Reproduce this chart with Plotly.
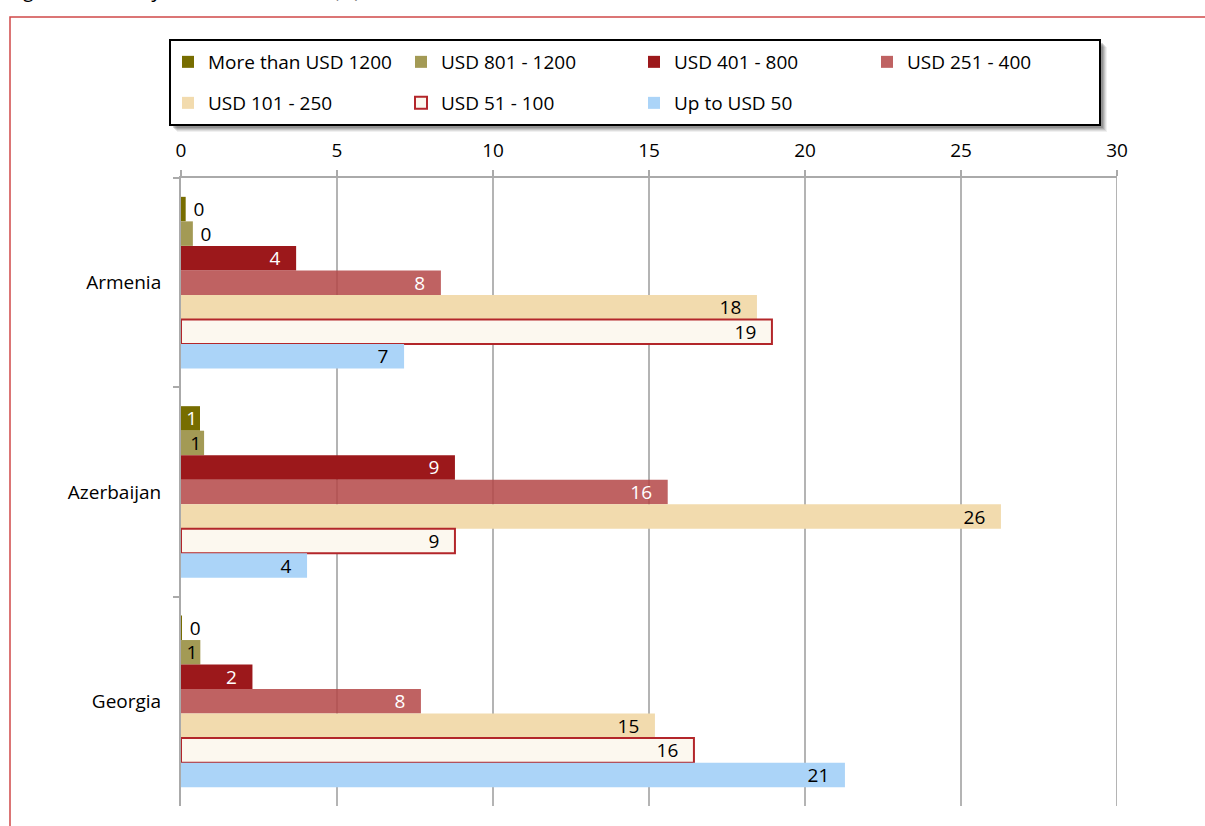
import plotly.graph_objects as go

countries = ["Armenia", "Azerbaijan", "Georgia"]
series_names = ["More than USD 1200", "USD 801 - 1200", "USD 401 - 800", "USD 251 - 400",
                "USD 101 - 250", "USD 51 - 100", "Up to USD 50"]
more_1200 = [0.15, 0.61, 0.03]
usd_801_1200 = [0.38, 0.74, 0.62]
usd_401_800 = [3.69, 8.78, 2.29]
usd_251_400 = [8.33, 15.6, 7.69]
usd_101_250 = [18.46, 26.28, 15.19]
usd_51_100 = [18.94, 8.78, 16.44]
up_to_50 = [7.15, 4.04, 21.28]
x_ticks = [0, 5, 10, 15, 20, 25, 30]

series_values = [more_1200, usd_801_1200, usd_401_800, usd_251_400, usd_101_250, usd_51_100, up_to_50]
fills = ["#776d00", "#a39a55", "#9c181b", "rgba(180,70,70,0.85)", "#f2dbae", "#fcf8ef", "#abd4f8"]
line_cols = [None, None, None, None, None, "#b3262a", None]
text_cols = ["white", "black", "white", "white", "black", "black", "black"]

FONT = "Open Sans"
FS = 19
W, H = 1205, 826
ML, MR, MT, MB = 181, 88, 178, 20
PW, PH = W - ML - MR, H - MT - MB


def px(xp):
    return (xp - ML) / PW


def py(yp):
    return (H - MB - yp) / PH


fig = go.Figure()
for i, (name, vals) in enumerate(zip(series_names, series_values)):
    texts, pos = [], []
    for v in vals:
        r = int(round(v))
        if r == 0:
            texts.append("\u2005" + str(r))
            pos.append("outside")
        elif v < 1.5:
            texts.append(str(r))
            pos.append("inside")
        else:
            texts.append(str(r) + "\u2002\u2009")
            pos.append("inside")
    fig.add_trace(go.Bar(
        y=countries, x=vals, name=name, orientation="h",
        marker=dict(color=fills[i],
                    line=dict(color=line_cols[i] or "rgba(0,0,0,0)",
                              width=2 if line_cols[i] else 0)),
        text=texts, textposition=pos, insidetextanchor="end", textangle=0,
        constraintext="none", cliponaxis=False,
        insidetextfont=dict(color=text_cols[i], size=FS, family=FONT),
        outsidetextfont=dict(color="black", size=FS, family=FONT),
        legend="legend" if i < 4 else "legend2",
        hoverinfo="skip",
    ))

shapes = []
# gridline at the right end of the value axis
shapes.append(dict(type="line", xref="x", yref="paper", x0=x_ticks[-1], x1=x_ticks[-1],
                   y0=0, y1=1, layer="below", line=dict(color="#b4b4b4", width=2)))
# outer red frame (left and top edges)
shapes.append(dict(type="path", xref="paper", yref="paper",
                   path=f"M {px(10)} {py(835)} L {px(10)} {py(17)} L {px(1215)} {py(17)}",
                   line=dict(color="#d04848", width=1.5)))
# legend box shadow
for k, op in [(7, 0.08), (6, 0.1), (5, 0.14), (4, 0.18), (3, 0.22)]:
    shapes.append(dict(type="rect", xref="paper", yref="paper",
                       x0=px(170 + k), x1=px(1100 + k), y0=py(125 + k), y1=py(40 + k),
                       line=dict(width=0), fillcolor=f"rgba(60,60,60,{op})"))
shapes.append(dict(type="rect", xref="paper", yref="paper",
                   x0=px(170), x1=px(1100), y0=py(125), y1=py(40),
                   line=dict(color="black", width=2), fillcolor="white"))

legend_common = dict(orientation="h", xanchor="left", yanchor="middle",
                     entrywidth=188, entrywidthmode="pixels", bgcolor="rgba(0,0,0,0)",
                     font=dict(family=FONT, size=FS), traceorder="normal")

fig.update_layout(
    width=W, height=H,
    margin=dict(l=ML, r=MR, t=MT, b=MB),
    paper_bgcolor="white", plot_bgcolor="white",
    font=dict(family=FONT, size=FS, color="black"),
    barmode="group", bargap=0.18, bargroupgap=0,
    shapes=shapes,
    legend=dict(x=px(168), y=py(62), **legend_common),
    legend2=dict(x=px(168), y=py(103), **legend_common),
    xaxis=dict(range=[0, 30], side="top", tickvals=x_ticks, ticktext=[str(t) for t in x_ticks],
               showgrid=True, gridcolor="#b4b4b4", gridwidth=2, zeroline=False,
               showline=True, linecolor="#aaaaaa", linewidth=2,
               ticks="outside", ticklen=6, tickcolor="#aaaaaa", tickwidth=2,
               ticklabelstandoff=5, tickfont=dict(size=FS, family=FONT)),
    yaxis=dict(type="category", categoryorder="array", categoryarray=countries,
               autorange="reversed", tickson="boundaries", showgrid=False, zeroline=False,
               showline=True, linecolor="#aaaaaa", linewidth=2,
               ticks="outside", ticklen=6, tickcolor="#aaaaaa", tickwidth=2,
               ticklabelstandoff=14, tickfont=dict(size=FS, family=FONT)),
    annotations=[dict(text="<i>Figure 6: Monthly household income (%)</i>", xref="paper", yref="paper",
                      x=px(8), y=py(5), xanchor="left", yanchor="bottom", showarrow=False,
                      font=dict(family=FONT, size=20, color="black"))],
)

fig.write_html("out.html", config={"displayModeBar": False},
               post_script="document.body.style.margin='0';")
